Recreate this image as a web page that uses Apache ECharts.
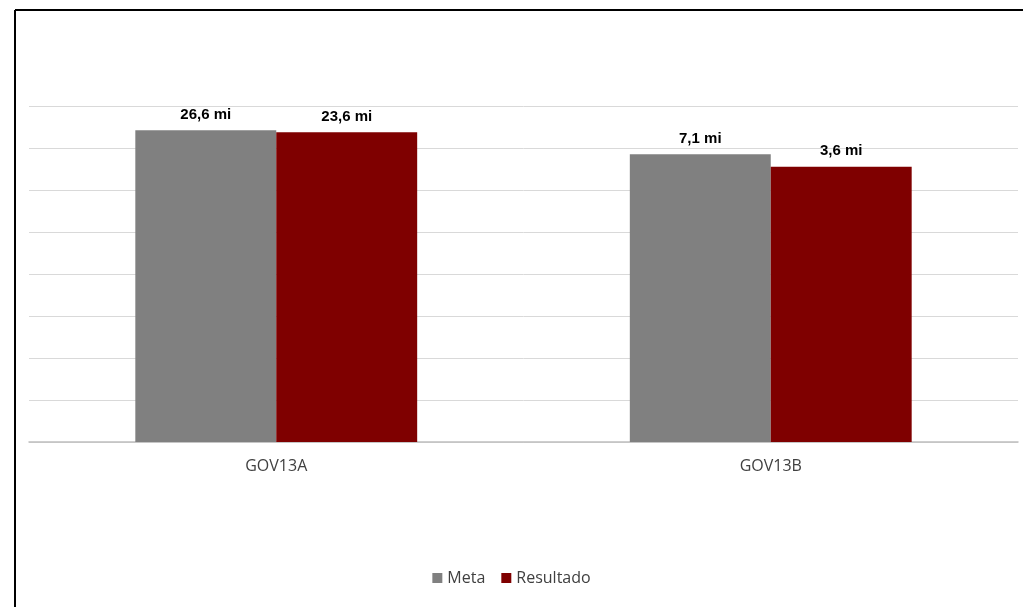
<!DOCTYPE html>
<html><head><meta charset="utf-8">
<script src="https://cdn.jsdelivr.net/npm/echarts@6/dist/echarts.min.js"></script>
<style>html,body{margin:0;padding:0;background:#fff}#c{width:1023px;height:607px}</style>
</head><body><div id="c"></div>
<script>
const categories = ['GOV13A', 'GOV13B'];
const seriesNames = ['Meta', 'Resultado'];
const metaValues = [26600000, 7100000];
const resultadoValues = [23600000, 3600000];
const metaLabels = ['26,6 mi', '7,1 mi'];
const resultadoLabels = ['23,6 mi', '3,6 mi'];
const colors = ['#808080', '#7f0000'];

const chart = echarts.init(document.getElementById('c'), null, {renderer: 'canvas'});
const labelStyle = (texts) => ({
  show: true, position: 'top', distance: 8,
  formatter: p => texts[p.dataIndex],
  fontFamily: 'Liberation Sans, Arial, sans-serif', fontWeight: 'bold', fontSize: 15, color: '#000'
});
chart.setOption({
  animation: false,
  backgroundColor: '#fff',
  color: colors,
  graphic: [
    {type: 'line', shape: {x1: 15, y1: 10, x2: 1023, y2: 10}, style: {stroke: '#000', lineWidth: 2}, silent: true, z: 100},
    {type: 'line', shape: {x1: 15, y1: 10, x2: 15, y2: 607}, style: {stroke: '#000', lineWidth: 2}, silent: true, z: 100}
  ],
  grid: {left: 29, right: 5, top: 106, bottom: 165, containLabel: false},
  legend: {
    bottom: 16, left: 'center', itemWidth: 10, itemHeight: 10, itemGap: 16, icon: 'rect',
    textStyle: {fontFamily: 'Open Sans, Liberation Sans, sans-serif', fontSize: 16, color: '#404040'}
  },
  xAxis: {
    type: 'category', data: categories,
    axisLine: {show: true, lineStyle: {color: '#bfbfbf', width: 1.5}},
    axisTick: {show: false},
    axisLabel: {margin: 16, fontFamily: 'Open Sans, Liberation Sans, sans-serif', fontSize: 16, color: '#404040'}
  },
  yAxis: {
    type: 'log', logBase: 10, min: 1, max: 100000000, splitNumber: 8,
    axisLine: {show: false}, axisTick: {show: false}, axisLabel: {show: false},
    splitLine: {show: true, lineStyle: {color: '#d9d9d9', width: 1}}
  },
  series: [
    {name: seriesNames[0], type: 'bar', data: metaValues, barGap: '0%', barCategoryGap: '43%',
     itemStyle: {color: colors[0]}, label: labelStyle(metaLabels)},
    {name: seriesNames[1], type: 'bar', data: resultadoValues, barGap: '0%', barCategoryGap: '43%',
     itemStyle: {color: colors[1]}, label: labelStyle(resultadoLabels)}
  ]
});
</script></body></html>
